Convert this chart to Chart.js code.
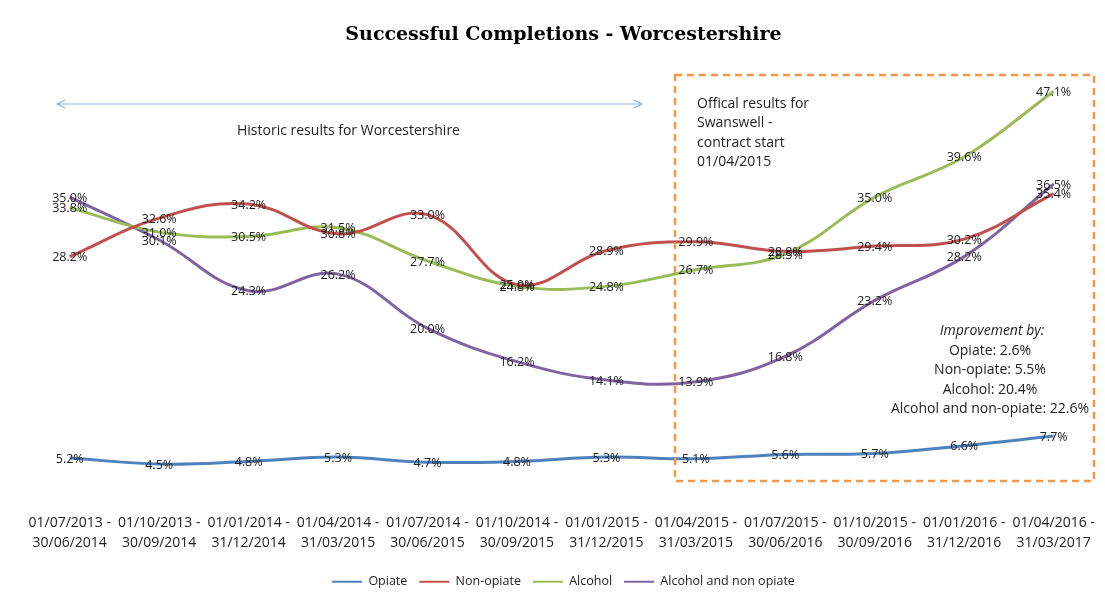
<!DOCTYPE html>
<html>
<head>
<meta charset="utf-8">
<script src="https://cdn.jsdelivr.net/npm/chart.js@4"></script>
<style>
  html, body { margin: 0; padding: 0; background: #fff; }
  #wrap { width: 1105px; height: 594px; }
</style>
</head>
<body>
<div id="wrap"><canvas id="chart"></canvas></div>
<script>
const periods = [
    ['01/07/2013 -', '30/06/2014'], ['01/10/2013 -', '30/09/2014'],
    ['01/01/2014 -', '31/12/2014'], ['01/04/2014 -', '31/03/2015'],
    ['01/07/2014 -', '30/06/2015'], ['01/10/2014 -', '30/09/2015'],
    ['01/01/2015 -', '31/12/2015'], ['01/04/2015 -', '31/03/2015'],
    ['01/07/2015 -', '30/06/2016'], ['01/10/2015 -', '30/09/2016'],
    ['01/01/2016 -', '31/12/2016'], ['01/04/2016 -', '31/03/2017']
];
const opiate = [5.2, 4.5, 4.8, 5.3, 4.7, 4.8, 5.3, 5.1, 5.6, 5.7, 6.6, 7.7];
const nonOpiate = [28.2, 32.6, 34.2, 30.8, 33.0, 25.0, 28.9, 29.9, 28.8, 29.4, 30.2, 35.4];
const alcohol = [33.8, 31.0, 30.5, 31.5, 27.7, 24.8, 24.8, 26.7, 28.5, 35.0, 39.6, 47.1];
const alcoholNonOpiate = [35.0, 30.1, 24.3, 26.2, 20.0, 16.2, 14.1, 13.9, 16.8, 23.2, 28.2, 36.5];

const improvement = [
    'Opiate: 2.6%',
    'Non-opiate: 5.5%',
    'Alcohol: 20.4%',
    'Alcohol and non-opiate: 22.6%'
];

const bodyFont = '"Open Sans", "Noto Sans", sans-serif';

function series(label, data, color) {
    return {
        label: label,
        data: data,
        borderColor: color,
        backgroundColor: color,
        borderWidth: 3,
        tension: 0.4,
        fill: false,
        pointRadius: 0,
        pointHoverRadius: 0
    };
}

// value labels centred on each point, plus the text boxes and the arrow
const annotations = {
    id: 'annotations',
    afterDatasetsDraw(chart) {
        const ctx = chart.ctx;
        ctx.save();
        ctx.font = '12.5px ' + bodyFont;
        ctx.fillStyle = '#222';
        ctx.textAlign = 'center';
        ctx.textBaseline = 'middle';
        chart.data.datasets.forEach((ds, i) => {
            chart.getDatasetMeta(i).data.forEach((pt, j) => {
                ctx.fillText(ds.data[j].toFixed(1) + '%', pt.x, pt.y + 1);
            });
        });

        // historic arrow
        const y = 104, x1 = 57, x2 = 642;
        ctx.strokeStyle = '#8eb4e3';
        ctx.lineWidth = 1.2;
        ctx.beginPath();
        ctx.moveTo(x1, y); ctx.lineTo(x2, y);
        ctx.moveTo(x1 + 8, y - 4); ctx.lineTo(x1, y); ctx.lineTo(x1 + 8, y + 4);
        ctx.moveTo(x2 - 8, y - 4); ctx.lineTo(x2, y); ctx.lineTo(x2 - 8, y + 4);
        ctx.stroke();

        ctx.fillStyle = '#222';
        ctx.font = '14px ' + bodyFont;
        ctx.textAlign = 'left';
        ctx.fillText('Historic results for Worcestershire', 237, 131);

        // Swanswell box
        ctx.strokeStyle = '#f79646';
        ctx.lineWidth = 2.5;
        ctx.setLineDash([7, 5]);
        ctx.strokeRect(675, 75, 419, 406);
        ctx.setLineDash([]);

        ['Offical results for', 'Swanswell -', 'contract start', '01/04/2015'].forEach((t, k) => {
            ctx.fillText(t, 697, 104 + k * 19.5);
        });

        ctx.textAlign = 'center';
        ctx.font = 'italic 14px ' + bodyFont;
        ctx.fillText('Improvement by:', 992, 331);
        ctx.font = '14px ' + bodyFont;
        improvement.forEach((t, k) => {
            ctx.fillText(t, 990, 351 + k * 19.5);
        });
        ctx.restore();
    }
};

new Chart(document.getElementById('chart'), {
    type: 'line',
    data: {
        labels: periods,
        datasets: [
            series('Opiate', opiate, '#4f81bd'),
            series('Non-opiate', nonOpiate, '#c0504d'),
            series('Alcohol', alcohol, '#9bbb59'),
            series('Alcohol and non opiate', alcoholNonOpiate, '#8064a2')
        ]
    },
    options: {
        responsive: true,
        maintainAspectRatio: false,
        animation: false,
        layout: { padding: { left: 25, right: 3, top: 0, bottom: -4 } },
        plugins: {
            title: {
                display: true,
                text: 'Successful Completions - Worcestershire',
                color: '#000',
                font: { family: '"DejaVu Serif", serif', size: 19, weight: 'bold' },
                padding: { top: 24, bottom: 19 }
            },
            legend: {
                position: 'bottom',
                labels: {
                    usePointStyle: true,
                    pointStyle: 'line',
                    pointStyleWidth: 30,
                    color: '#222',
                    font: { family: bodyFont, size: 12.5 },
                    padding: 12,
                    generateLabels(chart) {
                        return Chart.defaults.plugins.legend.labels.generateLabels(chart)
                            .map(item => Object.assign(item, { lineWidth: 2 }));
                    }
                }
            },
            tooltip: { enabled: false }
        },
        scales: {
            x: {
                offset: true,
                grid: { display: false, drawTicks: false },
                border: { display: false },
                ticks: {
                    color: '#222',
                    maxRotation: 0,
                    autoSkip: false,
                    font: { family: bodyFont, size: 14, lineHeight: 1.43 },
                    padding: 10
                }
            },
            y: {
                display: false,
                min: 0,
                max: 50
            }
        }
    },
    plugins: [annotations]
});
</script>
</body>
</html>
